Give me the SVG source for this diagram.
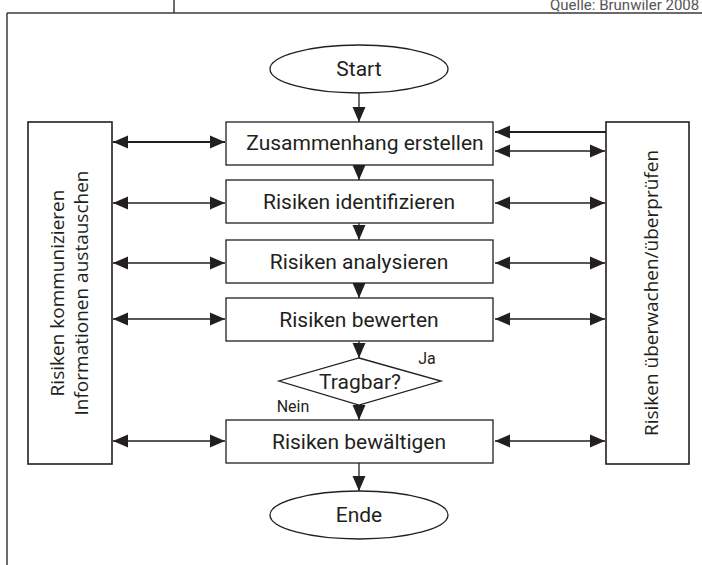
<svg xmlns="http://www.w3.org/2000/svg" width="702" height="565" viewBox="0 0 702 565">
<style>
.frame{fill:none;stroke:#3a3a3a;stroke-width:1.5}
.box{fill:#fff;stroke:#231f20;stroke-width:1.3}
.side{fill:#fff;stroke:#231f20;stroke-width:1.6}
.lbl{font-family:Roboto,"Liberation Sans",sans-serif;font-size:21px;fill:#231f20;text-anchor:middle;dominant-baseline:central}
.small{font-family:Roboto,"Liberation Sans",sans-serif;font-size:16px;fill:#231f20;text-anchor:middle;dominant-baseline:central}
.rot{font-family:"Open Sans","Noto Sans",sans-serif;font-size:19px;fill:#231f20;text-anchor:middle;dominant-baseline:central}
.src{font-family:Roboto,"Liberation Sans",sans-serif;font-size:15px;fill:#555}
.c{fill:none;stroke:#231f20;stroke-width:1.3}
.ct{fill:none;stroke:#231f20;stroke-width:2.2}
</style>
<defs>
<marker id="ah" markerUnits="userSpaceOnUse" markerWidth="16" markerHeight="14" refX="15" refY="7" orient="auto-start-reverse" viewBox="0 0 16 14">
<path d="M0,0.5 L15,7 L0,13.5 z" fill="#231f20"/>
</marker>
</defs>
<g id="frame">
<line class="frame" x1="7" y1="13" x2="702" y2="13"/>
<line class="frame" x1="7" y1="13" x2="7" y2="565"/>
<line class="frame" x1="174" y1="0" x2="174" y2="13"/>
<text class="src" x="550" y="10">Quelle: Brunwiler 2008</text>
</g>
<g id="connectors">
<line class="c" x1="359" y1="93" x2="359" y2="122" marker-end="url(#ah)"/>
<line class="c" x1="359" y1="165" x2="359" y2="180" marker-end="url(#ah)"/>
<line class="c" x1="359" y1="223" x2="359" y2="240" marker-end="url(#ah)"/>
<line class="c" x1="359" y1="283" x2="359" y2="298" marker-end="url(#ah)"/>
<line class="c" x1="359" y1="341" x2="359" y2="358" marker-end="url(#ah)"/>
<line class="c" x1="359" y1="405" x2="359" y2="420" marker-end="url(#ah)"/>
<line class="c" x1="359" y1="463" x2="359" y2="491" marker-end="url(#ah)"/>
<line class="ct" x1="113" y1="142" x2="225" y2="142" marker-start="url(#ah)" marker-end="url(#ah)"/>
<line class="c" x1="113" y1="203" x2="225" y2="203" marker-start="url(#ah)" marker-end="url(#ah)"/>
<line class="c" x1="113" y1="263" x2="225" y2="263" marker-start="url(#ah)" marker-end="url(#ah)"/>
<line class="c" x1="113" y1="319" x2="225" y2="319" marker-start="url(#ah)" marker-end="url(#ah)"/>
<line class="c" x1="113" y1="441" x2="225" y2="441" marker-start="url(#ah)" marker-end="url(#ah)"/>
<line class="ct" x1="606" y1="132" x2="495" y2="132" marker-end="url(#ah)"/>
<line class="c" x1="495" y1="151" x2="605" y2="151" marker-start="url(#ah)" marker-end="url(#ah)"/>
<line class="c" x1="495" y1="203" x2="605" y2="203" marker-start="url(#ah)" marker-end="url(#ah)"/>
<line class="c" x1="495" y1="263" x2="605" y2="263" marker-start="url(#ah)" marker-end="url(#ah)"/>
<line class="c" x1="495" y1="319" x2="605" y2="319" marker-start="url(#ah)" marker-end="url(#ah)"/>
<line class="c" x1="495" y1="441" x2="605" y2="441" marker-start="url(#ah)" marker-end="url(#ah)"/>
</g>
<g id="start">
<ellipse class="box" cx="359" cy="69" rx="89" ry="24"/>
<text class="lbl" x="359" y="69">Start</text>
</g>
<g id="n1">
<rect class="box" x="226" y="122" width="267" height="43"/>
<text class="lbl" x="365" y="143">Zusammenhang erstellen</text>
</g>
<g id="n2">
<rect class="box" x="226" y="180" width="267" height="43"/>
<text class="lbl" x="359" y="202">Risiken identifizieren</text>
</g>
<g id="n3">
<rect class="box" x="226" y="240" width="267" height="43"/>
<text class="lbl" x="359" y="262">Risiken analysieren</text>
</g>
<g id="n4">
<rect class="box" x="226" y="298" width="267" height="43"/>
<text class="lbl" x="359" y="320">Risiken bewerten</text>
</g>
<g id="decision">
<polygon class="box" points="359,358 441,381 359,405 279,381"/>
<text class="lbl" x="360" y="382">Tragbar?</text>
<text class="small" x="427" y="358">Ja</text>
<text class="small" x="293" y="406">Nein</text>
</g>
<g id="n5">
<rect class="box" x="226" y="420" width="267" height="43"/>
<text class="lbl" x="359" y="442">Risiken bewältigen</text>
</g>
<g id="end">
<ellipse class="box" cx="359" cy="515" rx="89" ry="24"/>
<text class="lbl" x="359" y="515">Ende</text>
</g>
<g id="left">
<rect class="side" x="28" y="122" width="84" height="342"/>
<text class="rot" transform="translate(57,293) rotate(-90)">Risiken kommunizieren</text>
<text class="rot" transform="translate(81,293) rotate(-90)">Informationen austauschen</text>
</g>
<g id="right">
<rect class="side" x="606" y="122" width="83" height="342"/>
<text class="rot" transform="translate(651,293) rotate(-90)">Risiken überwachen/überprüfen</text>
</g>
</svg>
